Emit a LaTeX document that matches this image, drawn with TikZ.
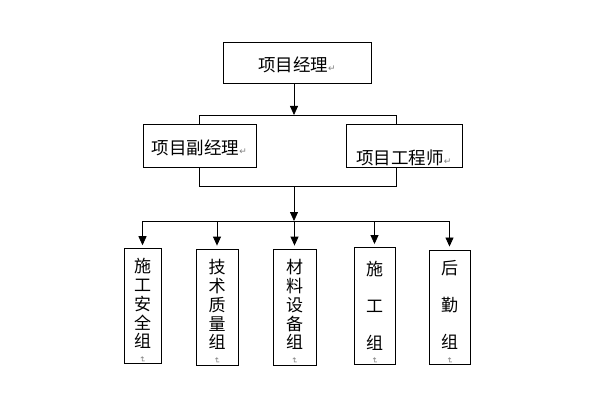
\documentclass[tikz,border=0pt]{standalone}
\usepackage{fontspec}
\usepackage{graphicx}
\usepackage{xcolor}
\usepackage{tikz}
\usetikzlibrary{arrows.meta,positioning,calc}
\newfontfamily\cjk{Noto Sans CJK SC}
\newfontfamily\retfont{DejaVu Sans}
\newcommand{\pmark}{{\retfont\fontsize{9}{9}\selectfont\color{gray}↵}}
\newcommand{\vmark}{{\retfont\fontsize{8}{8}\selectfont\color{gray}\rotatebox{-90}{↵}}}
\tikzset{
  hbox/.style={draw,fill=white,line width=0.8pt,inner sep=0pt,font=\cjk\fontsize{17.5}{19}\selectfont,text depth=0pt},
  vbox/.style={draw,fill=white,line width=0.8pt,inner sep=0pt,align=center,font=\cjk\fontsize{17}{18.8}\selectfont},
  arr/.style={-{Triangle[length=9pt,width=8pt]},line width=0.8pt},
}
\begin{document}
\begin{tikzpicture}[x=1pt,y=-1pt]
\useasboundingbox (0,0) rectangle (596,414);
\draw[line width=0.8pt] (199,115) rectangle (396,186);
\node[hbox,minimum width=148pt,minimum height=41pt,text height=18pt] (pm) at (297,62.5) {项目经理\pmark};
\node[hbox,minimum width=113pt,minimum height=43pt,text height=18pt] (dpm) at (199.5,145.5) {项目副经理\pmark};
\node[hbox,minimum width=116pt,minimum height=43pt,text height=38pt] (eng) at (404,145.5) {项目工程师\pmark};
\coordinate (bt) at (294,115); \coordinate (bb) at (294,186); \coordinate (hl) at (294,221);
\node[vbox,minimum width=37pt,minimum height=114pt] (g1) at (142.5,306) {\rule{0pt}{24pt}施\\工\\安\\全\\组\\[-10pt]\vmark};
\node[vbox,minimum width=42pt,minimum height=116pt] (g2) at (217,307) {\rule{0pt}{24pt}技\\术\\质\\量\\组\\[-10pt]\vmark};
\node[vbox,minimum width=43pt,minimum height=116pt] (g3) at (294.5,307) {\rule{0pt}{24pt}材\\料\\设\\备\\组\\[-10pt]\vmark};
\node[vbox,minimum width=41pt,minimum height=114pt] (g4) at (374.5,306) {\rule{0pt}{28pt}施\\[18pt]工\\[18pt]组\\[-10pt]\vmark};
\node[vbox,minimum width=41pt,minimum height=112pt] (g5) at (449.5,307) {\rule{0pt}{25pt}后\\[18pt]勤\\[18pt]组\\[-10pt]\vmark};
\draw[arr] (pm.south -| bt) -- (bt);
\draw[arr] (bb) -- (hl);
\draw[line width=0.8pt] (g1.north |- hl) -- (g5.north |- hl);
\foreach \g in {g1,g2,g3,g4,g5}
  \draw[arr,shorten >=3pt] (\g.north |- hl) -- (\g.north);
\end{tikzpicture}
\end{document}
